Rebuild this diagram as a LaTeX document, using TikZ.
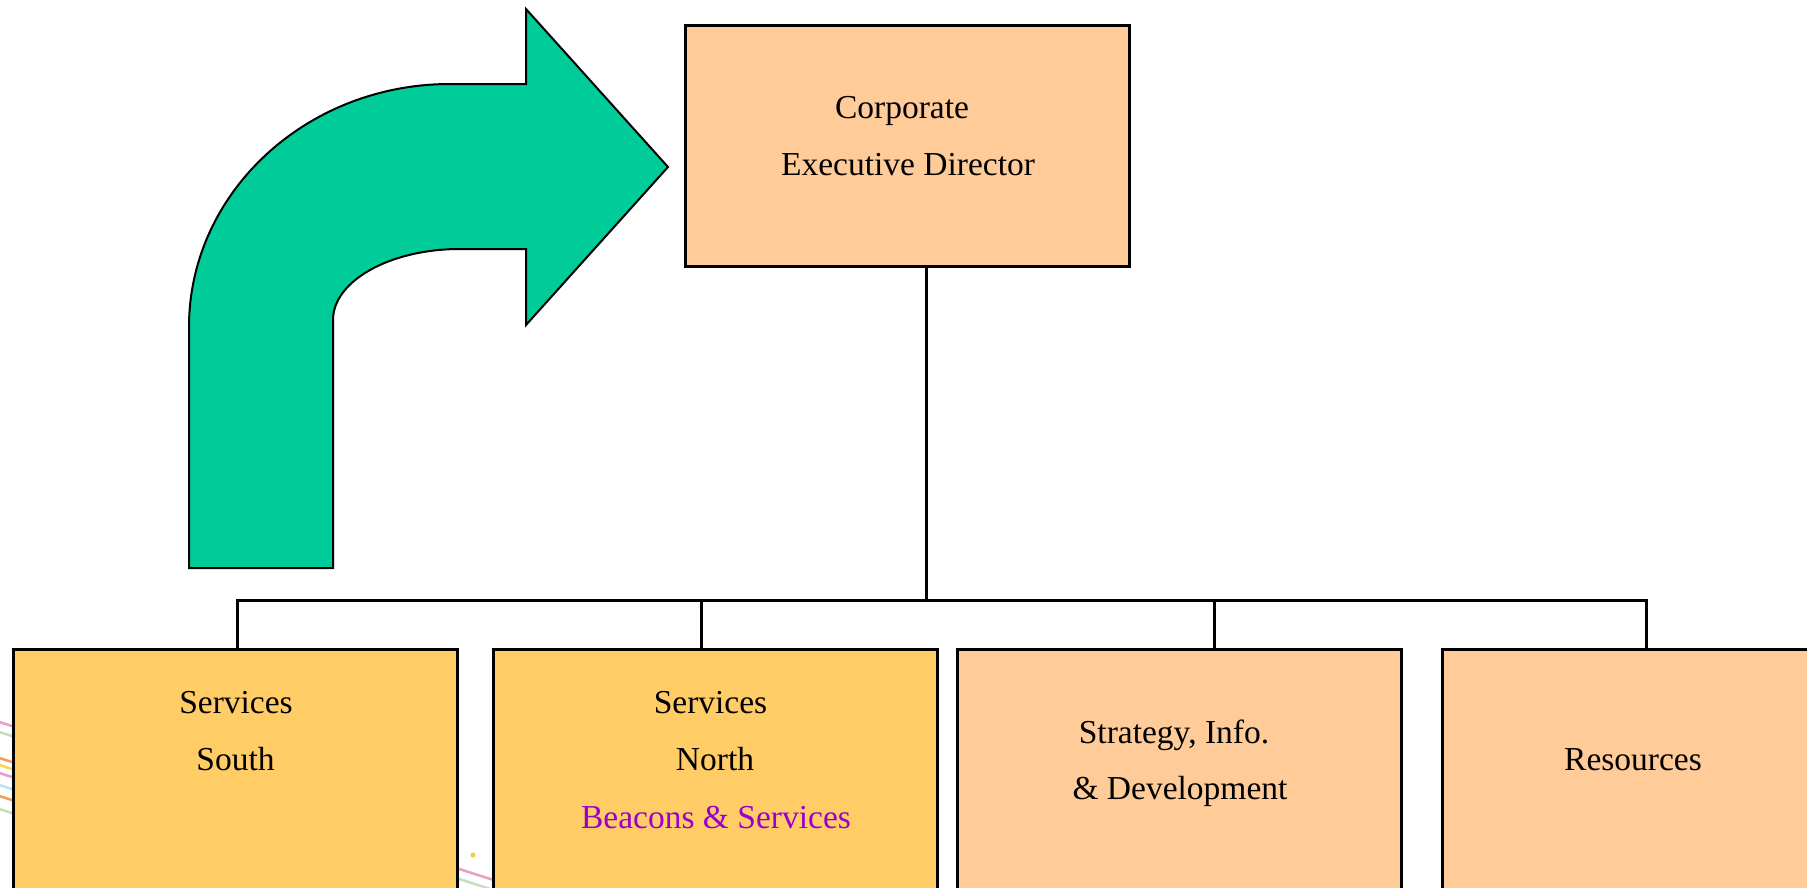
\documentclass[tikz,border=0pt]{standalone}
\usepackage{fontspec}
\setmainfont{Liberation Serif}
\definecolor{peach}{HTML}{FFCC99}
\definecolor{gold}{HTML}{FFCC66}
\definecolor{arrowgreen}{HTML}{00CC99}
\definecolor{beacon}{HTML}{9900CC}
\definecolor{decopink}{HTML}{E884B4}
\definecolor{decogreen}{HTML}{B4D8A8}
\definecolor{decoorange}{HTML}{F08428}
\definecolor{decoyellow}{HTML}{F8CC30}
\definecolor{decoblue}{HTML}{A8DCF0}
\tikzset{
  orgbox/.style={draw=black, line width=3pt, rectangle},
  conn/.style={draw=black, line width=3pt},
  lbl/.style={anchor=base, inner sep=0pt, font=\fontsize{33.5}{40}\selectfont},
  deco/.style={line width=2.5pt, opacity=0.8}
}
\begin{document}
\begin{tikzpicture}[x=1pt,y=-1pt]
\useasboundingbox (0,0) rectangle (1807,887);
\clip (0,0) rectangle (1807,887);
\fill[white] (0,0) rectangle (1807,887);
% background decorative lines
\draw[deco, decopink]   (-10,719) -- (700,946);
\draw[deco, decogreen]  (-10,729) -- (700,956);
\draw[deco, decoorange] (-10,755) -- (700,982);
\draw[deco, decoyellow] (-10,762) -- (700,989);
\draw[deco, decopink]   (-10,770) -- (700,997);
\draw[deco, decoblue]   (-10,782) -- (700,1009);
\draw[deco, decoorange] (-10,793) -- (700,1020);
\draw[deco, decogreen]  (-10,806) -- (700,1033);
\fill[decoyellow] (473,855) circle (2.5);
% boxes
\node[orgbox, fill=peach, minimum width=444pt, minimum height=241pt] (top) at (907,145.5) {};
\node[orgbox, fill=gold,  minimum width=444pt, minimum height=260pt] (b1) at (235,779) {};
\node[orgbox, fill=gold,  minimum width=444pt, minimum height=260pt] (b2) at (715,779) {};
\node[orgbox, fill=peach, minimum width=444pt, minimum height=260pt] (b3) at (1179,779) {};
\node[orgbox, fill=peach, minimum width=444pt, minimum height=260pt] (b4) at (1664,779) {};
% texts
\node[lbl] (t1) at (902,118) {Corporate};
\node[lbl] (t2) at (908,175) {Executive Director};
\node[lbl] (s1) at (236,713) {Services};
\node[lbl] (s2) at (235.5,770) {South};
\node[lbl] (n1) at (710.5,713) {Services};
\node[lbl] (n2) at (715,770) {North};
\node[lbl, text=beacon] (n3) at (716,828) {Beacons \& Services};
\node[lbl] (d1) at (1174,743) {Strategy, Info.};
\node[lbl] (d2) at (1180,799) {\& Development};
\node[lbl] (r1) at (1633,770) {Resources};
% connectors
\coordinate (jc) at (926,600);
\coordinate (j1) at (237,600);
\coordinate (j2) at (701,600);
\coordinate (j3) at (1214,600);
\coordinate (j4) at (1646,600);
\draw[conn] (top.south -| jc) -- (jc);
\draw[conn] (j1 |- b1.north) -- (j1) -- (j4) -- (j4 |- b4.north);
\draw[conn] (j2) -- (j2 |- b2.north);
\draw[conn] (j3) -- (j3 |- b3.north);
% bent arrow
\draw[fill=arrowgreen, draw=black, line width=2pt, line join=miter]
  (189,568) -- (189,327) .. controls (189,193) and (306,84) .. (450,84)
  -- (526,84) -- (526,9) -- (668,167) -- (526,325) -- (526,249) -- (460,249)
  .. controls (390,249) and (333,281) .. (333,320) -- (333,568) -- cycle;
\end{tikzpicture}
\end{document}
